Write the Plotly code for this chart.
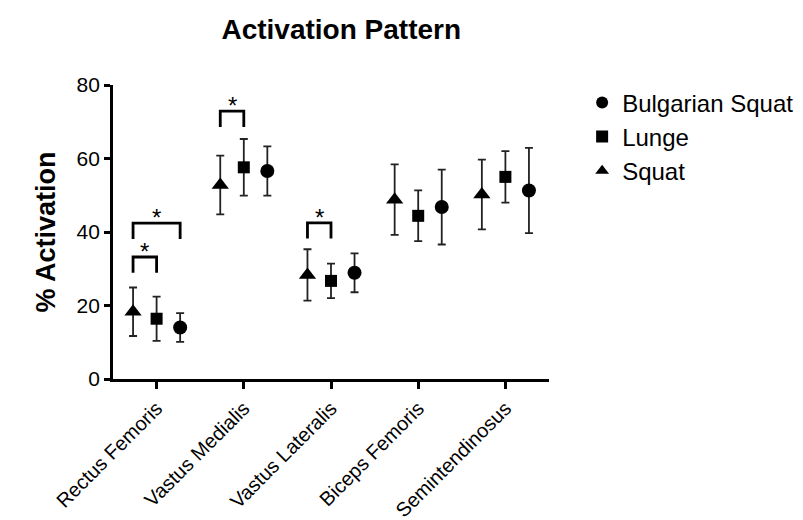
import plotly.graph_objects as go

categories = ["Rectus Femoris", "Vastus Medialis", "Vastus Lateralis", "Biceps Femoris", "Semintendinosus"]

squat_mean = [18.3, 52.8, 28.3, 48.8, 50.2]
squat_err = [6.6, 8.0, 7.0, 9.6, 9.5]
lunge_mean = [16.4, 57.6, 26.7, 44.4, 55.0]
lunge_err = [6.0, 7.7, 4.7, 6.9, 7.0]
bulgarian_mean = [14.0, 56.6, 28.9, 46.8, 51.3]
bulgarian_err = [3.9, 6.7, 5.3, 10.2, 11.6]

y_ticks = [0, 20, 40, 60, 80]

# significance brackets: category index, left group, right group, bracket height
sig_category = [0, 0, 1, 2]
sig_left = ["Squat", "Squat", "Squat", "Squat"]
sig_right = ["Lunge", "Bulgarian Squat", "Lunge", "Lunge"]
sig_height = [33.2, 42.4, 72.9, 42.5]

offset = {"Squat": -0.27, "Lunge": 0.0, "Bulgarian Squat": 0.27}

series = [
    ("Bulgarian Squat", bulgarian_mean, bulgarian_err, "circle", 14),
    ("Lunge", lunge_mean, lunge_err, "square", 12),
    ("Squat", squat_mean, squat_err, "triangle-up", 15),
]

fig = go.Figure()
for name, mean, err, sym, size in series:
    xs = [i + offset[name] for i in range(len(categories))]
    fig.add_trace(go.Scatter(
        x=xs, y=mean, mode="markers", name=name,
        marker=dict(symbol=sym, size=size, color="black"),
        error_y=dict(type="data", array=err, visible=True, color="#222", thickness=1.8, width=4),
    ))

leg = 4.3
for c, a, b, h in zip(sig_category, sig_left, sig_right, sig_height):
    x0 = c + offset[a]
    x1 = c + offset[b]
    fig.add_trace(go.Scatter(
        x=[x0, x0, x1, x1], y=[h - leg, h, h, h - leg], mode="lines",
        line=dict(color="black", width=2.8), showlegend=False, hoverinfo="skip",
    ))
    fig.add_annotation(x=(x0 + x1) / 2, y=h, text="*", showarrow=False,
                       yanchor="bottom", yshift=-10, font=dict(size=24, color="black"))

fig.update_layout(
    width=803, height=520,
    paper_bgcolor="white", plot_bgcolor="white",
    margin=dict(l=105, r=258, t=77, b=149),
    font=dict(family="Arial", color="black"),
    title=dict(text="<b>Activation Pattern</b>", x=0.415, xanchor="center", y=0.96, yanchor="middle",
               font=dict(size=28, color="black")),
    showlegend=True,
    legend=dict(x=1.076, y=1.016, xanchor="left", yanchor="top", font=dict(size=24),
                itemsizing="constant", tracegroupgap=0, bgcolor="rgba(0,0,0,0)"),
)
fig.update_xaxes(
    range=[-0.5, 4.5], tickmode="array", tickvals=list(range(len(categories))), ticktext=categories,
    tickangle=-45, showline=True, linecolor="black", linewidth=2.8, ticks="outside",
    ticklen=7, tickwidth=2.8, tickcolor="black", showgrid=False, zeroline=False,
    tickfont=dict(size=20), automargin=False,
)
fig.update_yaxes(
    range=[0, 80], tickmode="array", tickvals=y_ticks, showline=True, linecolor="black",
    linewidth=2.8, ticks="outside", ticklen=6, tickwidth=2.8, tickcolor="black",
    showgrid=False, zeroline=False, tickfont=dict(size=21), automargin=False,
    title=dict(text="<b>% Activation</b>", font=dict(size=27), standoff=14),
)
fig.write_html("out.html")
